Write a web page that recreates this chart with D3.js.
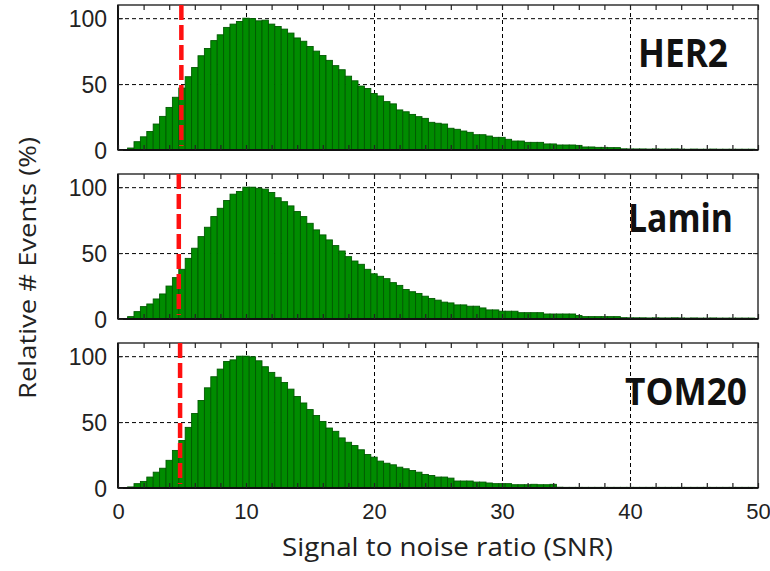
<!DOCTYPE html>
<html><head><meta charset="utf-8">
<script src="https://cdn.jsdelivr.net/npm/d3@7/dist/d3.min.js"></script>
<style>body{margin:0;background:#fff}</style>
</head><body><svg id="c" width="770" height="571"></svg>
<script>
// ---- data ----
const snrBins = [1.0,1.5,2.0,2.5,3.0,3.5,4.0,4.5,5.0,5.5,6.0,6.5,7.0,7.5,8.0,8.5,9.0,9.5,10.0,10.5,
  11.0,11.5,12.0,12.5,13.0,13.5,14.0,14.5,15.0,15.5,16.0,16.5,17.0,17.5,18.0,18.5,19.0,19.5,20.0,20.5,
  21.0,21.5,22.0,22.5,23.0,23.5,24.0,24.5,25.0,25.5,26.0,26.5,27.0,27.5,28.0,28.5,29.0,29.5,30.0,30.5,
  31.0,31.5,32.0,32.5,33.0,33.5,34.0,34.5,35.0,35.5,36.0,36.5,37.0,37.5,38.0,38.5,39.0,39.5,40.0,40.5,
  41.0,41.5,42.0,42.5,43.0,43.5,44.0,44.5,45.0,45.5,46.0,46.5,47.0,47.5,48.0,48.5,49.0,49.5];
const her2 = [1.5,6.3,10,14,19.7,25.5,32.3,40,47,55.6,62.6,71.5,77,83,87.4,93,95.5,97.5,100,99.7,
  98,98.5,95.5,93.7,91.7,88.7,85,82.5,78.5,75,71.7,68,64,60.9,56,52.5,48.5,46.7,42.9,41,
  36.7,35,30.4,29,27,25.3,24,21,20.3,19.7,16.5,15.7,14.4,13.4,11.6,11.6,10.6,9.6,9.6,8.1,
  6.8,6.8,5.8,5.8,5.8,4.6,4.6,3.8,3.8,3.8,3.5,2.3,2.3,2.0,2.0,1.8,1.8,0.9,0.8,0.8,
  0.8,0.7,0.8,0.7,0.7,0.8,0.7,0.6,0.7,0.6,0.6,0.7,0.6,0.6,0.6,0.6,0.6,0.6];
const lamin = [1.8,5.6,9.4,11.4,15.2,19,25,31.4,37.7,46,53.7,62.5,69.6,77.7,84,89.9,94.7,96.7,100,100,
  99.2,98.5,96,92,89,85.8,81.5,77.7,72.6,67.6,63.8,60,55.7,51.6,47.3,44,41.5,37.7,34.3,32.4,
  30.6,27.6,25.5,22.4,20.7,19.4,17.3,15.6,14.3,12.8,12.2,10.7,10.7,9.7,9.7,8.4,6.9,6.9,5.9,5.9,
  5.9,4.8,4.8,4.8,4.8,3.8,3.8,3.8,3.8,3.8,2.6,1.8,1.8,1.8,1.8,1.8,1.8,1.0,0.9,0.9,
  0.9,0.8,0.9,0.8,0.8,0.9,0.8,0.7,0.8,0.7,0.7,0.8,0.7,0.7,0.7,0.7,0.7,0.7];
const tom20 = [0.8,3.3,5,8.3,12,15,21,28.5,36,46,56.5,66.4,76,84.4,90.2,96,97.2,100,100,99.5,
  96.5,92,87.7,84,80,75,69.4,64.5,59.5,55,50.5,45.5,43,38,34.7,32.2,29,25.4,23.4,20.4,
  18.8,17.6,15.8,14.6,13.3,12,10.3,9.5,8.3,8.3,7.5,5.3,5.3,5.3,4.5,4.5,3.8,3.3,3.3,3.3,
  2.5,2.5,2.5,2.8,2.5,2.5,2.8,0.6,0.5,0.5,0.5,0.5,0.5,0.5,0.5,0.5,0.5,0.5,0.5,0.5,
  0.5,0.5,0.5,0.5,0.5,0.5,0.5,0.5,0.5,0.5,0.5,0.5,0.5,0.5,0.5,0.5,0.5,0.5];
const panelNames = ["HER2", "Lamin", "TOM20"];
const thresholds = [4.95, 4.75, 4.85];
const yTickValues = [0, 50, 100];
const xTickValues = [0, 10, 20, 30, 40, 50];
const xTitle = "Signal to noise ratio (SNR)";
const yTitle = "Relative # Events (%)";

// ---- layout ----
const series = [her2, lamin, tom20];
const panelTops = [5, 174, 343];
const panelH = 145;
const labelPos = [{x:638, y:62, len:90, fs:40}, {x:628, y:58, len:105, fs:40}, {x:625, y:62, len:122, fs:38}];
const svg = d3.select("#c");
svg.append("rect").attr("width",770).attr("height",571).attr("fill","#fff");
const x = d3.scaleLinear().domain([0, 50]).range([118, 758]);
const binW = x(0.5) - x(0);

series.forEach((vals, i) => {
  const top = panelTops[i];
  const y = d3.scaleLinear().domain([0, 110]).range([panelH, 0]);
  const g = svg.append("g").attr("transform", `translate(0,${top})`);

  // grid
  const gx = g.append("g").attr("transform", `translate(0,${panelH})`)
    .call(d3.axisBottom(x).tickValues([10,20,30,40]).tickSize(-panelH).tickFormat(""));
  gx.select(".domain").remove();
  gx.selectAll("line").attr("stroke","#000").attr("stroke-width",1).attr("stroke-dasharray","4,3");
  const gy = g.append("g").attr("transform", `translate(${x(0)},0)`)
    .call(d3.axisLeft(y).tickValues([50,100]).tickSize(-(x(50)-x(0))).tickFormat(""));
  gy.select(".domain").remove();
  gy.selectAll("line").attr("stroke","#000").attr("stroke-width",1).attr("stroke-dasharray","4,3");

  // bars
  g.append("g").selectAll("rect").data(vals).join("rect")
    .attr("x", (d, j) => x(snrBins[j] - 0.25))
    .attr("width", binW)
    .attr("y", d => y(d))
    .attr("height", d => y(0) - y(d))
    .attr("fill", "#008c00")
    .attr("stroke", "#005a00")
    .attr("stroke-width", 0.9);

  // frame
  g.append("rect").attr("x", x(0)).attr("y", 0).attr("width", x(50)-x(0)).attr("height", panelH)
    .attr("fill","none").attr("stroke","#333").attr("stroke-width",1.5);
  g.append("line").attr("x1", x(0)).attr("x2", x(50)).attr("y1", panelH).attr("y2", panelH)
    .attr("stroke","#111").attr("stroke-width",2);
  g.append("line").attr("x1", x(0)).attr("x2", x(0)).attr("y1", 0).attr("y2", panelH)
    .attr("stroke","#111").attr("stroke-width",2);

  // minor ticks top & bottom (inward)
  const minor = d3.range(0, 51, 2);
  const tb = g.append("g").attr("transform", `translate(0,${panelH})`)
    .call(d3.axisBottom(x).tickValues(minor).tickSize(-5).tickFormat(""));
  tb.select(".domain").remove();
  tb.selectAll("line").attr("stroke","#222").attr("stroke-width",1.2);
  const tt = g.append("g")
    .call(d3.axisTop(x).tickValues(minor).tickSize(-5).tickFormat(""));
  tt.select(".domain").remove();
  tt.selectAll("line").attr("stroke","#222").attr("stroke-width",1.2);

  // y axis labels
  const ya = g.append("g").attr("transform", `translate(${x(0)},0)`)
    .call(d3.axisLeft(y).tickValues(yTickValues).tickSize(-5).tickPadding(11));
  ya.select(".domain").remove();
  ya.selectAll("line").attr("stroke","#222");
  ya.selectAll("text").attr("font-family","'Liberation Sans', Arial, sans-serif")
    .attr("font-size",23).attr("fill","#222").attr("dy","0.36em");
  const yr = g.append("g").attr("transform", `translate(${x(50)},0)`)
    .call(d3.axisRight(y).tickValues(yTickValues).tickSize(-5).tickFormat(""));
  yr.select(".domain").remove();
  yr.selectAll("line").attr("stroke","#222");

  // threshold line
  g.append("line").attr("x1", x(thresholds[i])).attr("x2", x(thresholds[i]))
    .attr("y1", y(110)).attr("y2", y(3))
    .attr("stroke", "#ff1010").attr("stroke-width", 4.5).attr("stroke-dasharray", "15,5");

  // panel label
  const lp = labelPos[i];
  g.append("text").attr("x", lp.x).attr("y", lp.y).text(panelNames[i])
    .attr("font-family","'Open Sans', sans-serif").attr("font-weight",700)
    .attr("font-size", lp.fs).attr("fill","#111")
    .attr("textLength", lp.len).attr("lengthAdjust","spacingAndGlyphs");

  // x tick labels on last panel
  if (i === series.length - 1) {
    const xa = g.append("g").attr("transform", `translate(0,${panelH})`)
      .call(d3.axisBottom(x).tickValues(xTickValues).tickSize(0).tickPadding(15));
    xa.select(".domain").remove();
    xa.selectAll("text").attr("font-family","'Liberation Sans', Arial, sans-serif")
      .attr("font-size",22).attr("fill","#222");
  }
});

// axis titles
svg.append("text").attr("x", 282).attr("y", 556).text(xTitle)
  .attr("font-family","'Open Sans', sans-serif").attr("font-size",25).attr("fill","#222")
  .attr("textLength", 331).attr("lengthAdjust","spacingAndGlyphs");
svg.append("text").attr("transform","translate(36,268) rotate(-90)")
  .attr("text-anchor","middle").text(yTitle)
  .attr("font-family","'Open Sans', sans-serif").attr("font-size",23).attr("fill","#222")
  .attr("textLength", 262).attr("lengthAdjust","spacingAndGlyphs");
</script></body></html>
